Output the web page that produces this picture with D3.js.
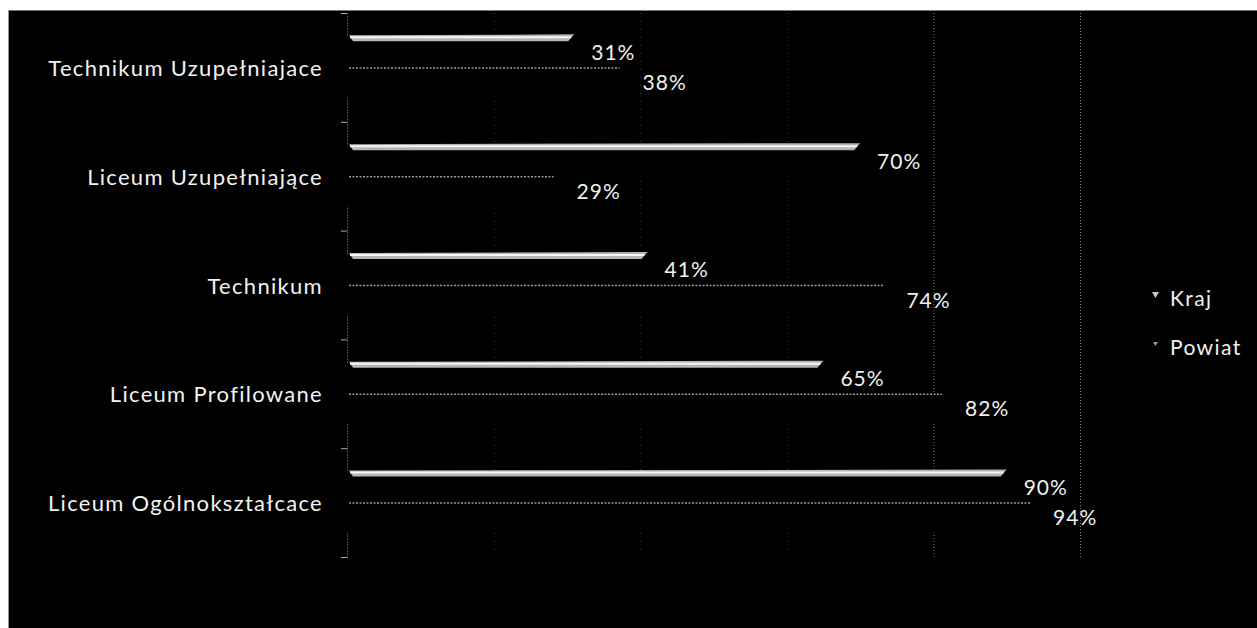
<!DOCTYPE html>
<html><head><meta charset="utf-8">
<script src="https://cdn.jsdelivr.net/npm/d3@7"></script>
<style>
html,body{margin:0;padding:0;background:#fff;}
svg{display:block;}
text{font-family:Lato,"Open Sans",sans-serif;}
</style></head>
<body>
<svg id="chart" width="1257" height="628"></svg>
<script>
const categories = ["Technikum Uzupełniajace","Liceum Uzupełniające","Technikum","Liceum Profilowane","Liceum Ogólnokształcace"];
const seriesNames = ["Kraj","Powiat"];
const krajValues = [31,70,41,65,90];
const powiatValues = [38,29,74,82,94];
const xTicks = [0,20,40,60,80,100];

const svg = d3.select("#chart");
const W = 1257, H = 628;

// background
svg.append("rect").attr("x",0).attr("y",0).attr("width",W).attr("height",H).attr("fill","#fff");
svg.append("rect").attr("x",8).attr("y",10).attr("width",W-8).attr("height",H-10).attr("fill","#000");
svg.append("line").attr("x1",8).attr("x2",W).attr("y1",10.5).attr("y2",10.5).attr("stroke","#777").attr("stroke-width",1);
svg.append("line").attr("x1",8.5).attr("x2",8.5).attr("y1",10).attr("y2",H).attr("stroke","#999").attr("stroke-width",1);

const x = d3.scaleLinear().domain([0,100]).range([347,1080]);
const y = d3.scaleBand().domain(categories).range([13,557]).paddingInner(0).paddingOuter(0);
const sub = d3.scaleBand().domain(seriesNames).range([0,y.bandwidth()]).paddingInner(0).paddingOuter(0.81);

// gridlines
svg.append("g").selectAll("line").data(xTicks.slice(1)).join("line")
  .attr("x1",d=>x(d)+0.5).attr("x2",d=>x(d)+0.5)
  .attr("y1",13).attr("y2",557)
  .attr("stroke","#8a8a8a").attr("stroke-width",1)
  .attr("stroke-dasharray",d=> d>=80 ? "1,2" : "1,7")
  .attr("opacity",d=> d>=80 ? 0.9 : 0.55);

// left axis
const axis = d3.axisLeft(y).tickSize(0).tickFormat("").tickSizeOuter(0);
const gAxis = svg.append("g").attr("transform","translate(347,0)").call(axis);
gAxis.select(".domain").attr("stroke","#999").attr("stroke-dasharray","1,2");
const bounds = categories.map(c=>y(c)+y.bandwidth()).concat([y(categories[0])]);
gAxis.selectAll(".bt").data(bounds).join("line").attr("class","bt")
  .attr("x1",-6).attr("x2",0).attr("y1",d=>d+0.5).attr("y2",d=>d+0.5)
  .attr("stroke","#aaa").attr("stroke-width",1);

// category labels
svg.append("g").selectAll("text").data(categories).join("text")
  .attr("x",323).attr("y",c=>y(c)+y.bandwidth()/2)
  .attr("text-anchor","end").attr("dominant-baseline","central")
  .attr("fill","#f2f2f2").attr("font-size",22).attr("letter-spacing",1.3)
  .text(c=>c);

const data = categories.map((c,i)=>({c, Kraj:krajValues[i], Powiat:powiatValues[i]}));

// bars (black fill with lit top edge)
seriesNames.forEach(s=>{
  const g = svg.append("g");
  g.selectAll("rect.bar").data(data).join("rect").attr("class","bar")
    .attr("x",x(0)).attr("y",d=>y(d.c)+sub(s))
    .attr("width",d=>x(d[s])-x(0)).attr("height",sub.bandwidth())
    .attr("fill","#000");
  if (s==="Kraj") {
    g.selectAll("path.edge").data(data).join("path").attr("class","edge")
      .attr("d",d=>{const x0=x(0)+2, x1=x(d[s]), yy=y(d.c)+sub(s);
        return `M${x0},${yy-2} L${x1},${yy-3} L${x1-6},${yy+4} L${x0+4},${yy+4} Z`;})
      .attr("fill","#b5b5b5");
    g.selectAll("line.hl").data(data).join("line").attr("class","hl")
      .attr("x1",x(0)+3).attr("x2",d=>x(d[s])-3)
      .attr("y1",d=>y(d.c)+sub(s)).attr("y2",d=>y(d.c)+sub(s))
      .attr("stroke","#f6f6f6").attr("stroke-width",2);
  } else {
    g.selectAll("line.edge").data(data).join("line").attr("class","edge")
      .attr("x1",x(0)+2).attr("x2",d=>x(d[s])-6)
      .attr("y1",d=>y(d.c)+sub(s)+0.5).attr("y2",d=>y(d.c)+sub(s)+0.5)
      .attr("stroke","#9a9a9a").attr("stroke-width",1.5).attr("stroke-dasharray","2,1.5");
  }
  g.selectAll("text").data(data).join("text")
    .attr("x",d=>x(d[s])+17).attr("y",d=>y(d.c)+sub(s)+sub.bandwidth()/2-1)
    .attr("dominant-baseline","central")
    .attr("fill","#f0f0f0").attr("font-size",21).attr("letter-spacing",1)
    .text(d=>d[s]+"%");
});

// legend
const legend = svg.append("g");
seriesNames.forEach((s,i)=>{
  const ly = 297 + i*49;
  legend.append("path")
    .attr("d", s==="Kraj" ? `M1152,${ly-5} L1159,${ly-5} L1155.5,${ly+1} Z` : `M1153,${ly-4} L1158,${ly-4} L1155.5,${ly} Z`)
    .attr("fill", s==="Kraj" ? "#c8c8c8" : "#9a9a9a");
  legend.append("text").attr("x",1170).attr("y",ly).attr("dominant-baseline","central")
    .attr("fill","#f0f0f0").attr("font-size",21).attr("letter-spacing",1.4).text(s);
});
</script>
</body></html>
